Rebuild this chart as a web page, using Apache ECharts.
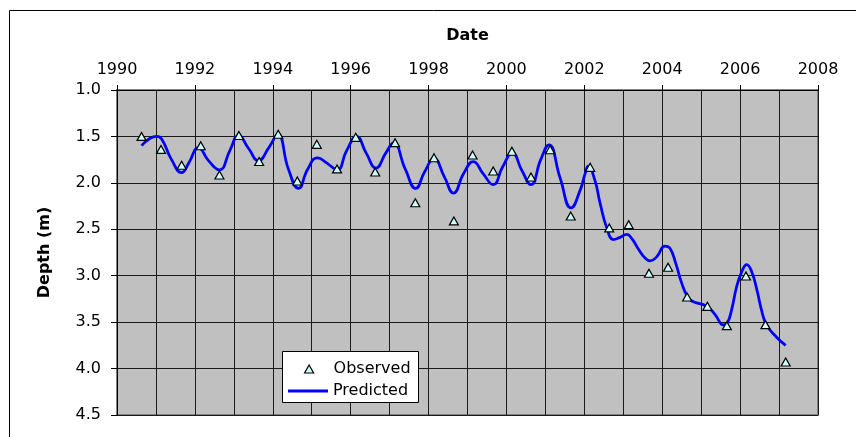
<!DOCTYPE html>
<html>
<head>
<meta charset="utf-8">
<script src="https://cdn.jsdelivr.net/npm/echarts@6/dist/echarts.min.js"></script>
<style>
html,body{margin:0;padding:0;background:#fff;}
#chart{width:856px;height:437px;}
</style>
</head>
<body>
<div id="chart"></div>
<script>
// Observed measurements (decimal year, depth m)
var obsYears = [1990.63,1991.13,1991.66,1992.15,1992.63,1993.13,1993.65,1994.14,1994.63,1995.13,1995.65,1996.13,1996.63,1997.14,1997.66,1998.14,1998.65,1999.13,1999.66,2000.14,2000.63,2001.12,2001.65,2002.15,2002.64,2003.14,2003.66,2004.15,2004.64,2005.16,2005.66,2006.15,2006.65,2007.17];
var obsDepth = [1.50,1.64,1.81,1.60,1.915,1.49,1.77,1.477,1.98,1.585,1.85,1.51,1.883,1.567,2.214,1.729,2.41,1.70,1.872,1.66,1.937,1.643,2.357,1.833,2.485,2.45,2.974,2.909,3.229,3.33,3.538,3.003,3.527,3.929];

// Predicted curve (decimal year, depth m)
var predYears = [1990.63,1990.85,1991.02,1991.15,1991.40,1991.66,1991.85,1992.09,1992.35,1992.63,1992.90,1993.12,1993.38,1993.63,1993.90,1994.13,1994.40,1994.66,1994.90,1995.15,1995.40,1995.65,1995.90,1996.15,1996.40,1996.65,1996.90,1997.10,1997.40,1997.67,1997.90,1998.14,1998.40,1998.64,1998.90,1999.15,1999.40,1999.66,1999.90,2000.15,2000.40,2000.63,2000.88,2001.09,2001.38,2001.66,2001.90,2002.02,2002.10,2002.27,2002.40,2002.58,2002.75,2002.90,2003.09,2003.22,2003.40,2003.56,2003.69,2003.86,2004.07,2004.20,2004.35,2004.50,2004.67,2004.80,2005.14,2005.36,2005.57,2005.67,2005.78,2005.91,2006.04,2006.17,2006.30,2006.43,2006.55,2006.68,2006.93,2007.17];
var predDepth = [1.60,1.52,1.50,1.53,1.75,1.89,1.78,1.62,1.76,1.86,1.65,1.49,1.63,1.76,1.62,1.48,1.85,2.06,1.85,1.73,1.79,1.86,1.65,1.50,1.68,1.84,1.68,1.57,1.85,2.06,1.88,1.74,1.93,2.11,1.90,1.77,1.90,2.02,1.83,1.68,1.87,2.02,1.75,1.59,1.95,2.27,2.07,1.90,1.82,1.97,2.21,2.49,2.61,2.59,2.555,2.60,2.72,2.81,2.84,2.795,2.68,2.705,2.87,3.08,3.24,3.28,3.33,3.42,3.53,3.51,3.37,3.12,2.96,2.88,2.96,3.15,3.37,3.53,3.66,3.75];

var xMin = 1990, xMax = 2008, xLabelStep = 2;
var yMin = 1.0, yMax = 4.5, yStep = 0.5;

var obsData = obsYears.map(function(x,i){return [x, obsDepth[i]];});
var predData = predYears.map(function(x,i){return [x, predDepth[i]];});

var FONT = 'DejaVu Sans';
var chart = echarts.init(document.getElementById('chart'), null, {renderer:'canvas'});
chart.setOption({
  backgroundColor:'#ffffff',
  animation:false,
  textStyle:{fontFamily:FONT,color:'#000'},
  graphic:[
    {type:'rect', z:-10, shape:{x:9.5,y:10.5,width:900,height:500}, style:{fill:'#fff',stroke:'#000',lineWidth:1}},
    {type:'rect', z:100, shape:{x:282.5,y:351.5,width:136,height:51}, style:{fill:'#fff',stroke:'#000',lineWidth:1}}
  ],
  grid:{left:117,top:90,width:701,height:325,show:true,backgroundColor:'#C0C0C0',borderColor:'#808080',borderWidth:2},
  xAxis:[{
    type:'value', position:'top', min:xMin, max:xMax, interval:xLabelStep,
    name:'Date', nameLocation:'middle', nameGap:46,
    nameTextStyle:{fontFamily:FONT,fontWeight:'bold',fontSize:16,color:'#000'},
    axisLine:{show:true,onZero:false,lineStyle:{color:'#000',width:1}},
    axisTick:{show:true,inside:false,length:5,lineStyle:{color:'#000'}},
    axisLabel:{fontFamily:FONT,fontSize:16,color:'#000',margin:12,formatter:function(v){return String(Math.round(v));}},
    splitLine:{show:false}
  },{
    type:'value', position:'top', min:xMin, max:xMax, interval:1,
    axisLine:{show:false}, axisTick:{show:false}, axisLabel:{show:false},
    splitLine:{show:true,lineStyle:{color:'#1a1a1a',width:1}}
  }],
  yAxis:{
    type:'value', inverse:true, min:yMin, max:yMax, interval:yStep,
    name:'Depth (m)', nameLocation:'middle', nameGap:64, nameRotate:90,
    nameTextStyle:{fontFamily:FONT,fontWeight:'bold',fontSize:16,color:'#000'},
    axisLine:{show:true,onZero:false,lineStyle:{color:'#000',width:1}},
    axisTick:{show:true,inside:false,length:6,lineStyle:{color:'#000'}},
    axisLabel:{fontFamily:FONT,fontSize:16,color:'#000',margin:16,formatter:function(v){return v.toFixed(1);}},
    splitLine:{show:true,lineStyle:{color:'#1a1a1a',width:1}}
  },
  legend:[{
    data:[{name:'Observed', icon:'triangle', itemStyle:{color:'#CCFFFF',borderColor:'#000',borderWidth:1.2}}],
    left:304, top:361, orient:'vertical',
    itemWidth:9, itemHeight:8, padding:0,
    textStyle:{fontFamily:FONT,fontSize:16,color:'#000',padding:[0,0,0,15]}, z:110
  },{
    data:[{name:'Predicted', icon:'rect', itemStyle:{color:'#0000FF',borderWidth:0}}],
    left:288, top:383, orient:'vertical',
    itemWidth:40, itemHeight:3, padding:0,
    textStyle:{fontFamily:FONT,fontSize:16,color:'#000'}, z:110
  }],
  series:[{
    name:'Predicted', type:'line', data:predData, smooth:0.5, symbol:'none', showSymbol:false,
    xAxisIndex:0, yAxisIndex:0,
    lineStyle:{color:'#0000FF',width:2.75}, itemStyle:{color:'#0000FF'}, z:3
  },{
    name:'Observed', type:'scatter', data:obsData, symbol:'triangle', symbolSize:[9,8],
    xAxisIndex:0, yAxisIndex:0,
    itemStyle:{color:'#CCFFFF',borderColor:'#000',borderWidth:1.2, opacity:1}, z:4
  }]
});
</script>
</body>
</html>
